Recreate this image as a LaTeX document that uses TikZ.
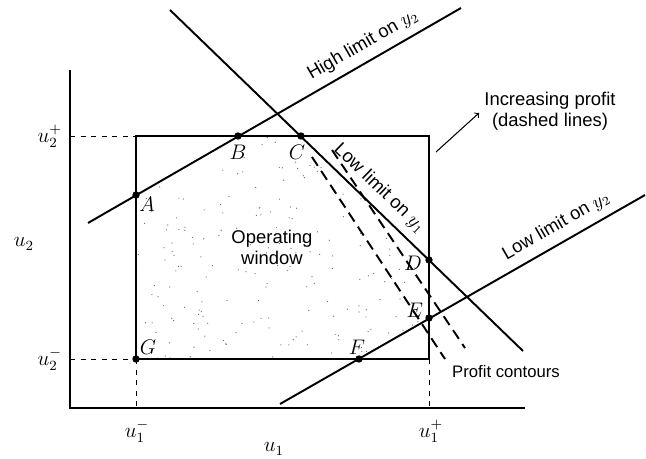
\documentclass[tikz,border=0pt]{standalone}
\usepackage{amsmath}
\usepackage{fontspec}
\newfontfamily\labelfont{Liberation Sans}
\usepackage{tikz}
\usetikzlibrary{positioning, calc, arrows}

\begin{document}
\begin{tikzpicture}[x=0.02cm, y=-0.02cm,
  pnt/.style={circle, fill, inner sep=0pt, minimum size=4.2pt},
  ptlabel/.style={font=\large},
  limline/.style={line width=1.1pt},
  contour/.style={line width=1.1pt, dash pattern=on 6pt off 3.5pt},
  guide/.style={dashed, line width=0.5pt},
  sidetext/.style={font=\labelfont\fontsize{10.5}{12}\selectfont, align=center}]
\useasboundingbox (0,0) rectangle (646,459);

% corners of the window
\coordinate (G) at (136,359);
\coordinate (TL) at (136,136);
\coordinate (TR) at (429,136);
\coordinate (BR) at (429,359);
\coordinate (A) at (136,195);
\coordinate (B) at (238,136);
\coordinate (C) at (301,136);
\coordinate (D) at (429,260);
\coordinate (E) at (429,318);
\coordinate (F) at (359,359);

% stippled operating window
\begin{scope}
\clip (A) -- (B) -- (C) -- (D) -- (E) -- (F) -- (G) -- cycle;
\pgfmathsetseed{4}
\foreach \i in {1,...,220} {
  \pgfmathsetmacro\px{136+293*rnd}
  \pgfmathsetmacro\py{136+223*rnd}
  \fill[black!60] (\px,\py) circle (0.35pt);
}
\end{scope}

% axes
\coordinate (ytop) at (70,70);
\coordinate (orig) at (70,408);
\coordinate (xend) at (525,408);
\draw[line width=0.8pt] (ytop) -- (orig) -- (xend);

% window
\draw[line width=0.6pt] (TL) rectangle (BR);

% limits of the inputs
\draw[guide] (70,136) -- (TL);
\draw[guide] (70,359) -- (G);
\draw[guide] (G) -- (136,408);
\draw[guide] (BR) -- (429,408);

\node[ptlabel, left] (u2hi) at (68,136) {$u^{+}_{2}$};
\node[ptlabel, left] (u2lo) at (68,359) {$u^{-}_{2}$};
\node[ptlabel] (u2) at (24,244) {$u_{2}$};
\node[ptlabel] (u1lo) at (137,431) {$u^{-}_{1}$};
\node[ptlabel] (u1hi) at (431,431) {$u^{+}_{1}$};
\node[ptlabel] (u1) at (274,449) {$u_{1}$};

% limit lines
\coordinate (hy2a) at (88,223);
\coordinate (hy2b) at (461,8);
\coordinate (ly1a) at (170,10);
\coordinate (ly1b) at (523,351);
\coordinate (ly2a) at (280,404);
\coordinate (ly2b) at (645,195);
\draw[limline] (hy2a) -- (hy2b)
  node[pos=0.76, above=1pt, sloped, sidetext] (hy2) {High limit on $y_2$};
\draw[limline] (ly1a) -- (ly1b)
  node[pos=0.56, above=1pt, sloped, sidetext] (ly1) {Low limit on $y_1$};
\draw[limline] (ly2a) -- (ly2b)
  node[pos=0.78, above=1pt, sloped, sidetext] (ly2) {Low limit on $y_2$};

% profit contours
\coordinate (pc1a) at (312,157);
\coordinate (pc1b) at (445,359);
\coordinate (pc2a) at (332,150);
\coordinate (pc2b) at (465,348);
\draw[contour] (pc1a) -- (pc1b);
\draw[contour] (pc2a) -- (pc2b);

% vertices
\foreach \p in {A,B,C,D,E,F,G}
  \node[pnt] at (\p) {};
\node[ptlabel] (lA) at (147,204) {$A$};
\node[ptlabel] (lB) at (238,152) {$B$};
\node[ptlabel] (lC) at (297,152) {$C$};
\node[ptlabel] (lD) at (413,263) {$D$};
\node[ptlabel] (lE) at (415,310) {$E$};
\node[ptlabel] (lF) at (357,347) {$F$};
\node[ptlabel] (lG) at (148,347) {$G$};

% texts
\node[sidetext] (win) at (272,247) {Operating\\window};
\node[sidetext] (prof) at (550,111) {Increasing profit\\(dashed lines)};
\node[sidetext, font=\labelfont\fontsize{9.5}{11}\selectfont] (cont) at (506,372) {Profit contours};
\coordinate (arrs) at (436,152);
\coordinate (arre) at (479,113);
\draw[->, line width=0.6pt] (arrs) -- (arre);
\end{tikzpicture}
\end{document}
